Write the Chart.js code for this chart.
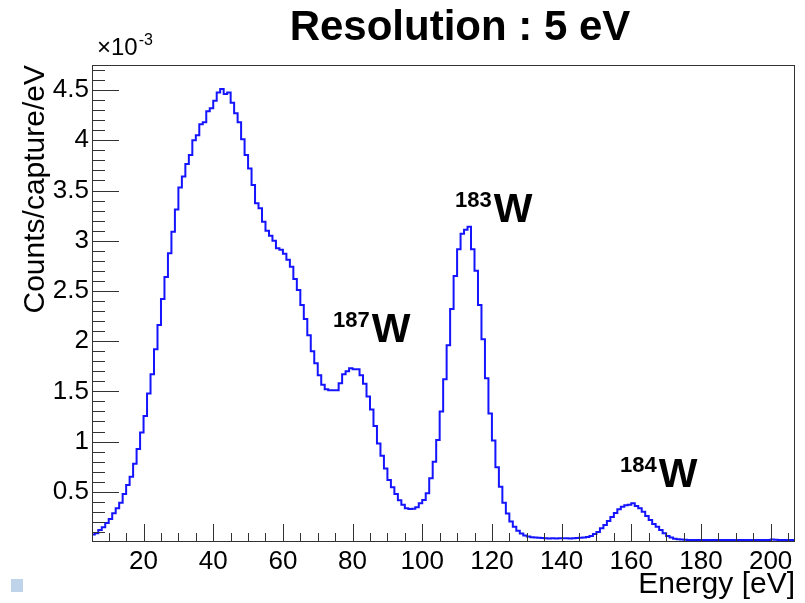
<!DOCTYPE html>
<html>
<head>
<meta charset="utf-8">
<script src="https://cdn.jsdelivr.net/npm/chart.js@4"></script>
<style>
  html, body { margin: 0; padding: 0; background: #fff; }
  #wrap { position: relative; width: 805px; height: 603px; }
</style>
</head>
<body>
<div id="wrap"><canvas id="spectrum" width="805" height="603"></canvas></div>
<script>
// capture spectrum, 1 eV bins starting at 5 eV (values in units of 1e-3 counts/capture/eV)
const binStart = 5;
const binWidth = 1;
const counts = [
  0.075, 0.087, 0.12, 0.146, 0.19, 0.23, 0.286, 0.335, 0.39, 0.478,
  0.568, 0.65, 0.78, 0.926, 1.09, 1.255, 1.48, 1.67, 1.92, 2.16,
  2.42, 2.64, 2.875, 3.09, 3.31, 3.53, 3.64, 3.765, 3.855, 4.00,
  4.05, 4.16, 4.18, 4.29, 4.32, 4.395, 4.475, 4.51, 4.46, 4.475,
  4.375, 4.27, 4.18, 4.01, 3.855, 3.72, 3.556, 3.373, 3.323, 3.19,
  3.10, 3.05, 3.00, 2.925, 2.91, 2.87, 2.81, 2.74, 2.62, 2.51,
  2.36, 2.22, 2.06, 1.90, 1.78, 1.66, 1.565, 1.52, 1.51, 1.51,
  1.51, 1.58, 1.67, 1.70, 1.73, 1.72, 1.72, 1.66, 1.575, 1.45,
  1.32, 1.155, 0.98, 0.86, 0.733, 0.617, 0.545, 0.478, 0.415, 0.37,
  0.335, 0.328, 0.33, 0.345, 0.385, 0.418, 0.485, 0.634, 0.80, 1.016,
  1.30, 1.62, 1.96, 2.32, 2.65, 2.915, 3.07, 3.11, 3.14, 2.915,
  2.70, 2.36, 2.02, 1.63, 1.28, 1.01, 0.744, 0.55, 0.39, 0.285,
  0.203, 0.153, 0.113, 0.085, 0.065, 0.055, 0.048, 0.045, 0.043, 0.04,
  0.037, 0.036, 0.037, 0.036, 0.037, 0.038, 0.037, 0.036, 0.038, 0.04,
  0.042, 0.045, 0.05, 0.06, 0.08, 0.10, 0.136, 0.17, 0.21, 0.25,
  0.29, 0.325, 0.35, 0.365, 0.37, 0.385, 0.358, 0.335, 0.30, 0.26,
  0.22, 0.18, 0.153, 0.12, 0.087, 0.06, 0.045, 0.033, 0.027, 0.025,
  0.022, 0.021, 0.02, 0.02, 0.021, 0.02, 0.019, 0.02, 0.02, 0.021,
  0.02, 0.02, 0.019, 0.02, 0.021, 0.02, 0.02, 0.02, 0.019, 0.02,
  0.02, 0.021, 0.02, 0.02, 0.02, 0.024, 0.022, 0.02, 0.02, 0.019,
  0.02, 0.02
];
const xTicks = [20, 40, 60, 80, 100, 120, 140, 160, 180, 200];
const yTicks = [0.5, 1, 1.5, 2, 2.5, 3, 3.5, 4, 4.5];
const peaks = [
  { iso: '187', e: 74.4, v: 1.99 },
  { iso: '183', e: 109.4, v: 3.187 },
  { iso: '184', e: 156.8, v: 0.548 }
];

const FONT = '"Liberation Sans", Arial, sans-serif';

// histogram outline: one point per bin edge, flat top over each bin
const points = counts.map((v, i) => ({ x: binStart + i * binWidth, y: v }));
points.push({ x: binStart + counts.length * binWidth, y: counts[counts.length - 1] });

// ROOT-like frame, inward ticks and all the extra text
const rootFrame = {
  id: 'rootFrame',
  afterDraw(chart) {
    const ctx = chart.ctx;
    const a = chart.chartArea;
    const xs = chart.scales.x, ys = chart.scales.y;
    ctx.save();
    ctx.strokeStyle = '#333';
    ctx.lineWidth = 1;
    ctx.strokeRect(Math.round(a.left) + 0.5, Math.round(a.top) + 0.5,
      Math.round(a.right - a.left) - 1, Math.round(a.bottom - a.top) - 1);

    ctx.beginPath();
    // y ticks, every 0.1, major every 0.5
    for (let k = 1; k <= 47; k++) {
      const v = k / 10;
      const y = Math.round(ys.getPixelForValue(v)) + 0.5;
      const len = k % 5 === 0 ? 27 : 13;
      ctx.moveTo(a.left, y);
      ctx.lineTo(a.left + len, y);
    }
    // x ticks, every 5, major every 20
    for (let e = 10; e <= 205; e += 5) {
      const x = Math.round(xs.getPixelForValue(e)) + 0.5;
      const len = e % 20 === 0 ? 18 : 9;
      ctx.moveTo(x, a.bottom);
      ctx.lineTo(x, a.bottom - len);
    }
    ctx.stroke();

    ctx.fillStyle = '#000';
    ctx.textBaseline = 'alphabetic';

    // title
    ctx.font = 'bold 42px ' + FONT;
    ctx.textAlign = 'center';
    ctx.fillText('Resolution : 5 eV', 460, 40);

    // exponent
    ctx.textAlign = 'left';
    ctx.font = '24px ' + FONT;
    ctx.fillText('\u00d710', 97, 55);
    const w10 = ctx.measureText('\u00d710').width;
    ctx.font = '16px ' + FONT;
    ctx.fillText('-3', 97 + w10 + 1, 45);

    // axis titles
    ctx.font = '30px ' + FONT;
    ctx.textAlign = 'right';
    ctx.fillText('Energy [eV]', a.right, 593);
    ctx.save();
    ctx.translate(44, a.top);
    ctx.rotate(-Math.PI / 2);
    ctx.fillText('Counts/capture/eV', 0, 0);
    ctx.restore();

    // isotope labels
    ctx.textAlign = 'left';
    peaks.forEach(p => {
      const x = xs.getPixelForValue(p.e);
      const y = ys.getPixelForValue(p.v);
      ctx.font = 'bold 22px ' + FONT;
      ctx.fillText(p.iso, x, y - 15);
      const w = ctx.measureText(p.iso).width;
      ctx.font = 'bold 41px ' + FONT;
      ctx.fillText('W', x + w + 2, y);
    });

    // little marker bottom left
    ctx.fillStyle = '#bfd3ea';
    ctx.fillRect(11, 579, 12, 13);
    ctx.restore();
  }
};

const chart = new Chart(document.getElementById('spectrum'), {
  type: 'line',
  data: {
    datasets: [{
      data: points,
      borderColor: '#1414ff',
      borderWidth: 2,
      pointRadius: 0,
      stepped: 'before',
      fill: false
    }]
  },
  options: {
    responsive: false,
    animation: false,
    layout: { padding: { top: 65, right: 10, left: 0, bottom: 0 } },
    plugins: { legend: { display: false }, tooltip: { enabled: false } },
    scales: {
      x: {
        type: 'linear',
        min: 5.2,
        max: 207,
        grid: { display: false, drawTicks: false },
        border: { display: false },
        afterFit: s => { s.height = 61; },
        afterBuildTicks: s => { s.ticks = xTicks.map(v => ({ value: v })); },
        ticks: {
          font: { family: FONT, size: 26 },
          color: '#000',
          padding: 4,
          maxRotation: 0,
          autoSkip: false,
          callback: v => String(v)
        }
      },
      y: {
        type: 'linear',
        min: 0,
        max: 4.75,
        grid: { display: false, drawTicks: false },
        border: { display: false },
        afterFit: s => { s.width = 92; },
        afterBuildTicks: s => { s.ticks = yTicks.map(v => ({ value: v })); },
        ticks: {
          font: { family: FONT, size: 26 },
          color: '#000',
          padding: 3,
          autoSkip: false,
          callback: v => String(v)
        }
      }
    }
  },
  plugins: [rootFrame]
});
</script>
</body>
</html>
